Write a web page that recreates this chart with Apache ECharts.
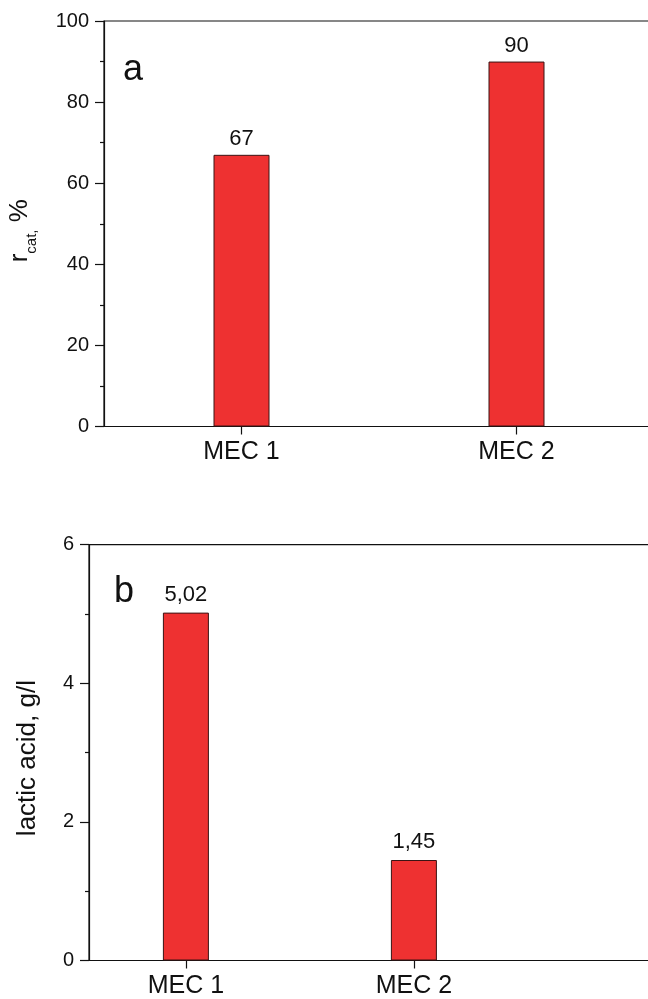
<!DOCTYPE html>
<html>
<head>
<meta charset="utf-8">
<script src="https://cdn.jsdelivr.net/npm/echarts@6/dist/echarts.min.js"></script>
<style>
html,body{margin:0;padding:0;background:#fff;overflow:hidden;}
#chart{width:648px;height:999px;}
</style>
</head>
<body>
<div id="chart"></div>
<script>
// Data
const categories = ['MEC 1', 'MEC 2'];
const rcatValues = [67, 90];            // chart a, %
const lacticValues = [5.02, 1.45];      // chart b, g/l
const panelLetters = ['a', 'b'];

const FONT = 'Liberation Sans, Arial, Helvetica, sans-serif';
const BAR_COLOR = '#EE3131';
const BAR_BORDER = '#3a1414';
const INK = '#111';

function fmtComma(v) { return v.toFixed(2).replace('.', ','); }

const chart = echarts.init(document.getElementById('chart'), null, {renderer: 'canvas'});

const pos = categories.map((c, i) => i + 1);

function xAxisCfg(gridIndex, min, max) {
  return {
    type: 'value', gridIndex, min, max,
    axisLine: {show: true, onZero: false, lineStyle: {color: INK, width: 1.2}},
    axisTick: {show: true, inside: false, length: 8, customValues: pos, lineStyle: {color: INK, width: 1.2}},
    axisLabel: {
      show: true, customValues: pos, margin: 13,
      fontFamily: FONT, fontSize: 25, color: INK,
      formatter: v => categories[Math.round(v) - 1] || ''
    },
    splitLine: {show: false}
  };
}

function yAxisCfg(gridIndex, max, interval, name, nameGap, nameStyle) {
  return {
    type: 'value', gridIndex, min: 0, max, interval,
    name, nameLocation: 'middle', nameGap, nameRotate: 90,
    nameTextStyle: nameStyle,
    axisLine: {show: true, lineStyle: {color: INK, width: 1.2}},
    axisTick: {show: true, inside: false, length: 9, lineStyle: {color: INK, width: 1.2}},
    minorTick: {show: true, splitNumber: 2, length: 4, lineStyle: {color: INK, width: 1.2}},
    axisLabel: {margin: 15, fontFamily: FONT, fontSize: 20, color: INK},
    splitLine: {show: false}
  };
}

const option = {
  backgroundColor: '#fff',
  animation: false,
  grid: [
    {left: 104, top: 21, width: 550, height: 405.5, show: true, borderColor: INK, borderWidth: 1.2,
     backgroundColor: 'transparent', containLabel: false, outerBoundsMode: 'none'},
    {left: 89, top: 544.7, width: 575.7, height: 415.8, show: true, borderColor: INK, borderWidth: 1.2,
     backgroundColor: 'transparent', containLabel: false, outerBoundsMode: 'none'}
  ],
  xAxis: [
    xAxisCfg(0, 0.5, 2.5),
    xAxisCfg(1, 0.575, 3.1)
  ],
  yAxis: [
    yAxisCfg(0, 100, 20, '{r|r}{s|cat,}{r| %}', 64.5, {
      padding: [0, 14, 0, 0],
      rich: {
        r: {fontFamily: FONT, fontSize: 26, color: INK, lineHeight: 40},
        s: {fontFamily: FONT, fontSize: 15, color: INK, lineHeight: 14, verticalAlign: 'bottom'}
      }
    }),
    yAxisCfg(1, 6, 2, 'lactic acid, g/l', 48, {
      fontFamily: FONT, fontSize: 26, color: INK, padding: [0, 11, 0, 0]
    })
  ],
  series: [
    {
      type: 'bar', xAxisIndex: 0, yAxisIndex: 0, barWidth: 56,
      data: rcatValues.map((v, i) => [pos[i], v]),
      itemStyle: {color: BAR_COLOR, borderColor: BAR_BORDER, borderWidth: 1},
      label: {show: true, position: 'top', distance: 5, fontFamily: FONT, fontSize: 22, color: INK,
        formatter: p => String(p.value[1])}
    },
    {
      type: 'bar', xAxisIndex: 1, yAxisIndex: 1, barWidth: 46,
      data: lacticValues.map((v, i) => [pos[i], v]),
      itemStyle: {color: BAR_COLOR, borderColor: BAR_BORDER, borderWidth: 1},
      label: {show: true, position: 'top', distance: 7, fontFamily: FONT, fontSize: 22, color: INK,
        formatter: p => fmtComma(p.value[1])}
    }
  ],
  graphic: [
    {type: 'text', left: 123, top: 52, style: {text: panelLetters[0], font: '36px ' + FONT, fill: INK}},
    {type: 'text', left: 114, top: 574, style: {text: panelLetters[1], font: '36px ' + FONT, fill: INK}}
  ]
};

chart.setOption(option);
</script>
</body>
</html>
